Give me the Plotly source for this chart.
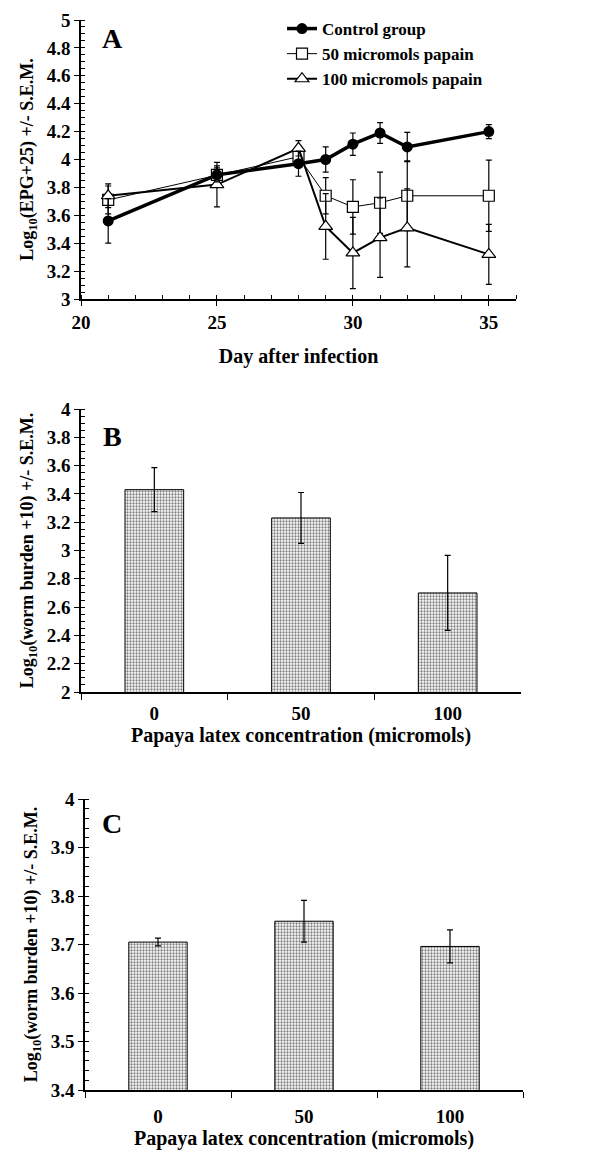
import plotly.graph_objects as go

# ---------------- Panel A data ----------------
days = [21, 25, 28, 29, 30, 31, 32, 35]
control = [3.56, 3.89, 3.97, 4.00, 4.11, 4.19, 4.09, 4.20]
control_err = [0.16, 0.05, 0.09, 0.09, 0.08, 0.075, 0.105, 0.05]
papain50 = [3.71, 3.89, 4.02, 3.74, 3.66, 3.69, 3.74, 3.74]
papain50_err = [0.10, 0.065, 0.06, 0.13, 0.195, 0.22, 0.25, 0.255]
papain100 = [3.74, 3.82, 4.08, 3.52, 3.33, 3.44, 3.51, 3.32]
papain100_err = [0.085, 0.16, 0.055, 0.235, 0.255, 0.285, 0.28, 0.215]

# ---------------- Panel B / C data ----------------
conc_labels = ["0", "50", "100"]
worm_b = [3.43, 3.23, 2.70]
worm_b_err = [0.155, 0.18, 0.265]
worm_c = [3.705, 3.748, 3.696]
worm_c_err = [0.008, 0.043, 0.034]

W, H = 600, 1155
FONT = '"Liberation Serif", "Times New Roman", Times, serif'


def py(p):
    return 1 - p / H


fig = go.Figure()

err_style = dict(type="data", visible=True, color="black", thickness=1.2, width=3)

fig.add_trace(go.Scatter(
    x=days, y=papain50, name="50 micromols papain", mode="lines+markers",
    line=dict(color="black", width=1),
    marker=dict(symbol="square", size=11, color="white", line=dict(color="black", width=1.2)),
    error_y=dict(array=papain50_err, **err_style), legendrank=2,
    xaxis="x", yaxis="y"))
fig.add_trace(go.Scatter(
    x=days, y=papain100, name="100 micromols papain", mode="lines+markers",
    line=dict(color="black", width=2),
    marker=dict(symbol="triangle-up", size=12, color="white", line=dict(color="black", width=1.2)),
    error_y=dict(array=papain100_err, **err_style), legendrank=3,
    xaxis="x", yaxis="y"))
fig.add_trace(go.Scatter(
    x=days, y=control, name="Control group", mode="lines+markers",
    line=dict(color="black", width=3.5),
    marker=dict(symbol="circle", size=11, color="black"),
    error_y=dict(array=control_err, **err_style), legendrank=1,
    xaxis="x", yaxis="y"))

bar_marker = dict(
    color="white",
    line=dict(color="black", width=1),
    pattern=dict(shape=".", fgcolor="black", bgcolor="white", size=3, solidity=0.45),
)
fig.add_trace(go.Bar(
    x=conc_labels, y=worm_b, marker=bar_marker, showlegend=False,
    error_y=dict(array=worm_b_err, **err_style), xaxis="x2", yaxis="y2"))
fig.add_trace(go.Bar(
    x=conc_labels, y=worm_c, marker=bar_marker, showlegend=False,
    error_y=dict(array=worm_c_err, **err_style), xaxis="x3", yaxis="y3"))

tickfont = dict(family=FONT, size=19, color="black", weight="bold")
titlefont = dict(family=FONT, size=20, color="black", weight="bold")
ytitlefont = dict(family=FONT, size=18, color="black", weight="bold")

common_axis = dict(
    showline=True, linecolor="black", linewidth=1.5, showgrid=False, zeroline=False,
    ticks="outside", ticklen=5, tickwidth=1.2, tickcolor="black", tickfont=tickfont,
    automargin=False,
)

fig.update_layout(
    width=W, height=H,
    margin=dict(l=0, r=0, t=0, b=0),
    paper_bgcolor="white", plot_bgcolor="white",
    font=dict(family=FONT, color="black"),
    bargap=0.6,
    showlegend=True,
    legend=dict(x=274 / W, y=py(3), xanchor="left", yanchor="top",
                font=dict(family=FONT, size=17, color="black", weight="bold"),
                bgcolor="rgba(0,0,0,0)", itemwidth=30, tracegroupgap=0),
    xaxis=dict(common_axis, domain=[73 / W, 508 / W], range=[20, 36], dtick=5, tick0=20,
               anchor="y", ticklabelstandoff=0,
               minor=dict(dtick=1, ticks="inside", ticklen=4, tickcolor="black", tickwidth=1),
               title=dict(text="Day after infection", font=titlefont, standoff=17)),
    yaxis=dict(common_axis, domain=[py(291), py(12)], range=[3, 5], dtick=0.2,
               anchor="x",
               minor=dict(dtick=0.05, ticks="inside", ticklen=4, tickcolor="black", tickwidth=1),
               title=dict(text="Log<sub>10</sub>(EPG+25) +/- S.E.M.", font=ytitlefont, standoff=8)),
    xaxis2=dict(common_axis, domain=[73 / W, 513 / W], type="category", tickson="boundaries",
                ticklen=6, anchor="y2", ticklabelstandoff=3,
                title=dict(text="Papaya latex concentration (micromols)", font=titlefont, standoff=5)),
    yaxis2=dict(common_axis, domain=[py(684), py(401)], range=[2, 4], dtick=0.2,
                anchor="x2",
                minor=dict(dtick=0.05, ticks="inside", ticklen=4, tickcolor="black", tickwidth=1),
                title=dict(text="Log<sub>10</sub>(worm burden +10) +/- S.E.M.", font=ytitlefont, standoff=8)),
    xaxis3=dict(common_axis, domain=[77 / W, 515 / W], type="category", tickson="boundaries",
                ticklen=6, anchor="y3", ticklabelstandoff=8,
                title=dict(text="Papaya latex concentration (micromols)", font=titlefont, standoff=0)),
    yaxis3=dict(common_axis, domain=[py(1082), py(791)], range=[3.4, 4.0], dtick=0.1,
                anchor="x3",
                minor=dict(dtick=0.02, ticks="inside", ticklen=4, tickcolor="black", tickwidth=1),
                title=dict(text="Log<sub>10</sub>(worm burden +10) +/- S.E.M.", font=ytitlefont, standoff=8)),
)

panel_font = dict(family=FONT, size=28, color="black", weight="bold")
for label, yy in [("A", 30), ("B", 428), ("C", 815)]:
    fig.add_annotation(text=label, x=104 / W, y=py(yy), xref="paper", yref="paper",
                       showarrow=False, font=panel_font, xanchor="center", yanchor="middle")

fig.write_html("out.html")
